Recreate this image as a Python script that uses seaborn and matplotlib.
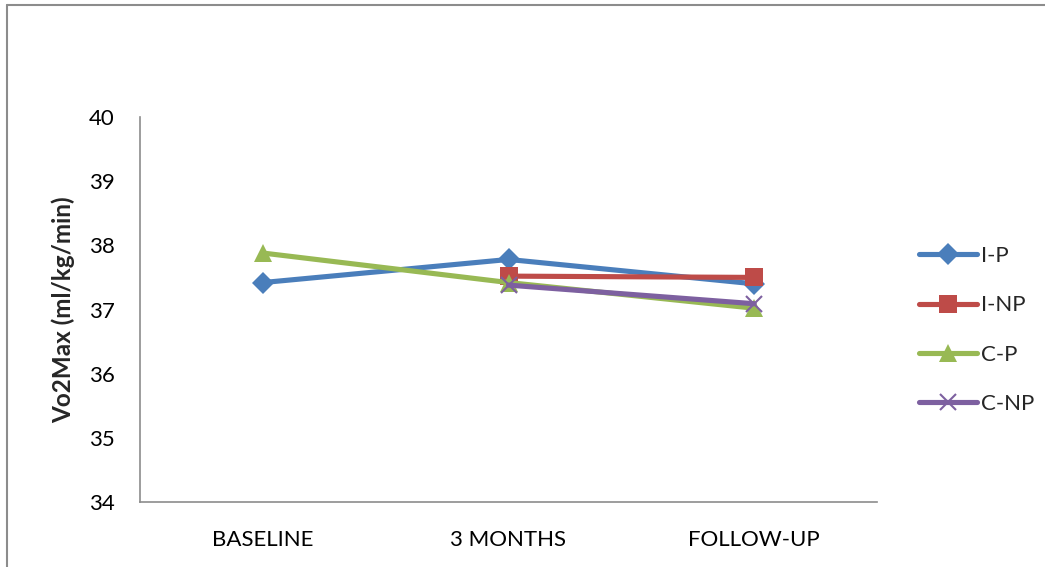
import numpy as np
import pandas as pd
import matplotlib
matplotlib.use("Agg")
import matplotlib.pyplot as plt
from matplotlib.lines import Line2D
import seaborn as sns

categories = ["BASELINE", "3 MONTHS", "FOLLOW-UP"]
series_names = ["I-P", "I-NP", "C-P", "C-NP"]
i_p = [37.42, 37.78, 37.40]
i_np = [np.nan, 37.52, 37.50]
c_p = [37.88, 37.42, 37.02]
c_np = [np.nan, 37.38, 37.09]
y_ticks = [34, 35, 36, 37, 38, 39, 40]

sns.set_theme(style="white")
plt.rcParams['font.family'] = ['Lato', 'DejaVu Sans']

rows = []
for name, vals in zip(series_names, [i_p, i_np, c_p, c_np]):
    for i, v in enumerate(vals):
        rows.append({"x": i, "y": v, "series": name})
df = pd.DataFrame(rows).dropna()

colors = {"I-P": "#4A7EBB", "I-NP": "#BE4B48", "C-P": "#98B954", "C-NP": "#7D60A0"}
markers = {"I-P": "D", "I-NP": "s", "C-P": "^", "C-NP": "x"}
msizes = {"I-P": 11, "I-NP": 13, "C-P": 13, "C-NP": 12}

fig = plt.figure(figsize=(10.45, 5.67), dpi=100)
ax = fig.add_axes([140/1045, 1 - 502/567, (877-140)/1045, (502-117)/567])

for name in series_names:
    sub = df[df["series"] == name]
    sns.lineplot(data=sub, x="x", y="y", ax=ax, color=colors[name],
                 marker=markers[name], markersize=msizes[name], linewidth=3.7,
                 markeredgewidth=1.5 if name == "C-NP" else 0,
                 markeredgecolor=colors[name], label=name, sort=False,
                 estimator=None)

ax.set_xlim(-0.5, 2.5)
ax.set_ylim(34, 40)
ax.set_yticks(y_ticks)
ax.set_xticks(range(len(categories)))
ax.set_xticklabels(categories)
ax.tick_params(axis='both', labelsize=16, length=0, colors='black')
ax.tick_params(axis='y', pad=18)
ax.tick_params(axis='x', pad=20)
ax.set_xlabel("")
ax.set_ylabel("Vo2Max (ml/kg/min)", fontsize=17.5, fontweight='bold', labelpad=10)
for s in ["top", "right"]:
    ax.spines[s].set_visible(False)
for s in ["left", "bottom"]:
    ax.spines[s].set_color("#8C8C8C")
    ax.spines[s].set_linewidth(1.2)

handles, labels = ax.get_legend_handles_labels()
ax.legend(handles, labels, loc="center left", bbox_to_anchor=(899/1045, 1 - 330/567),
          bbox_transform=fig.transFigure, frameon=False, fontsize=16,
          handlelength=2.6, handletextpad=0.2, labelspacing=1.32)

# outer chart border (left and top)
fig.add_artist(Line2D([7/1045, 7/1045], [0, 1 - 5/567], transform=fig.transFigure,
                      color="#8C8C8C", linewidth=1.5))
fig.add_artist(Line2D([7/1045, 1], [1 - 5/567, 1 - 5/567], transform=fig.transFigure,
                      color="#8C8C8C", linewidth=1.5))

fig.savefig("out.png", dpi=100)
